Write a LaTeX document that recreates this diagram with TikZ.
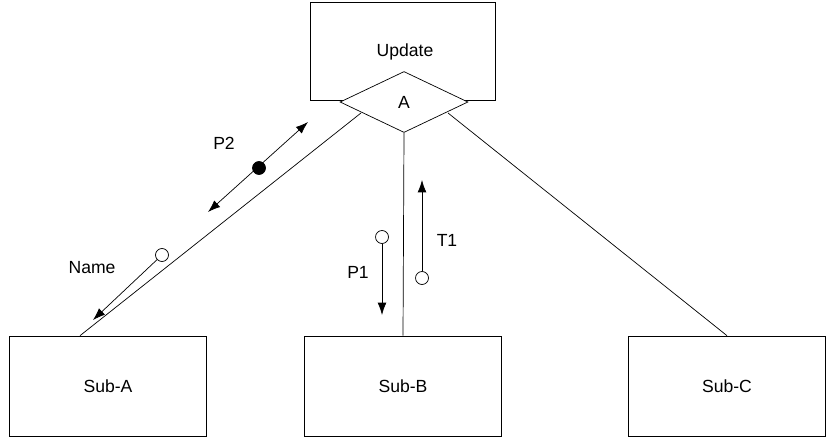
\documentclass[tikz,border=0pt]{standalone}
\usepackage{fontspec}
\setmainfont{Liberation Sans}
\usetikzlibrary{shapes.geometric,arrows.meta}
\begin{document}
\begin{tikzpicture}[x=0.02cm,y=-0.02cm]
\tikzset{box/.style={draw,minimum width=3.94cm,minimum height=2cm,inner sep=0pt},
 msg/.style={draw,-{Latex[length=7pt,width=5pt]}},
 dot/.style={draw,circle,fill=white,inner sep=0pt,minimum size=0.26cm}}
\useasboundingbox (0,0) rectangle (834,439);
\node[draw,minimum width=3.7cm,minimum height=1.96cm] (u) at (403,51) {};
\node at (405,52) {Update};
\node[draw,diamond,fill=white,aspect=2.1,minimum width=2.56cm,minimum height=1.22cm,inner sep=0pt] (A) at (404,102) {A};
\node[box] (sa) at (108,386) {Sub-A};
\node[box] (sb) at (403,386) {Sub-B};
\node[box] (sc) at (727,386) {Sub-C};
\coordinate (a1) at (361,113);
\coordinate (a3) at (448,113);
\path[draw] (a1) -- (sa.north -| 80,0);
\path[draw] (A.south) -- (sb.north);
\path[draw] (a3) -- (sc.north);
% messages
\coordinate (p2a) at (208,212);
\coordinate (p2b) at (308,122);
\path[msg,{Latex[length=7pt,width=5pt]}-{Latex[length=7pt,width=5pt]}] (p2a) -- (p2b);
\node[dot,fill=black] (p2) at (259,168) {};
\node (lp2) at (224,143) {P2};
\node[dot] (nm) at (162,255) {};
\coordinate (nme) at (93,320);
\path[msg] (nm) -- (nme);
\node (lnm) at (92,268) {Name};
\node[dot] (p1) at (382,237) {};
\coordinate (p1e) at (382,315);
\path[msg] (p1) -- (p1e);
\node (lp1) at (358,272) {P1};
\node[dot] (t1) at (422,278) {};
\coordinate (t1e) at (422,180);
\path[msg] (t1) -- (t1e);
\node (lt1) at (447,240) {T1};
\end{tikzpicture}
\end{document}
